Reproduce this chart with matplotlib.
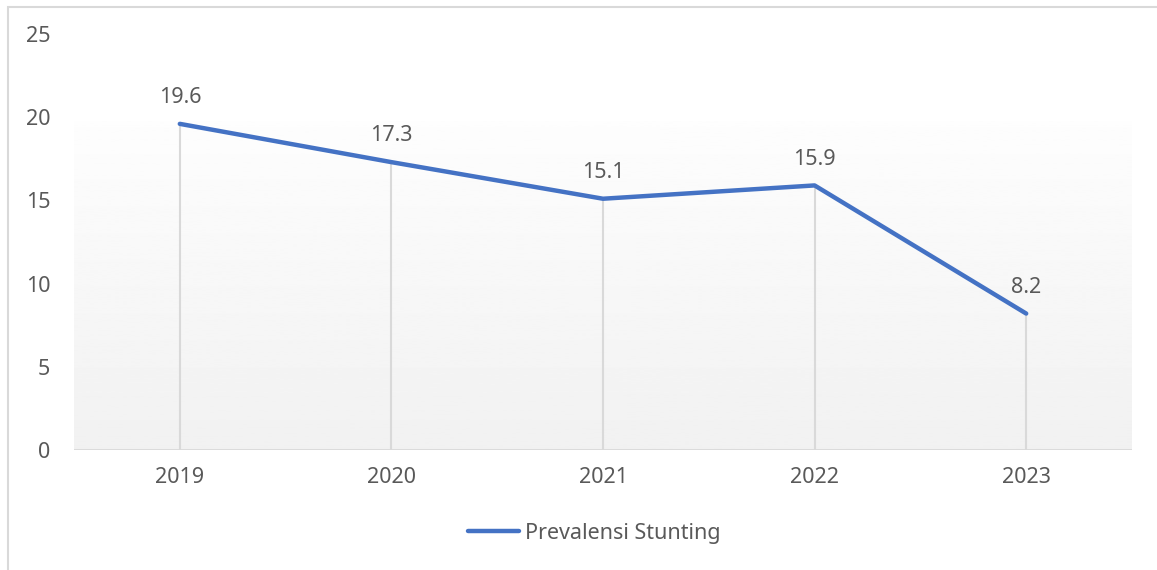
import numpy as np
import matplotlib
matplotlib.use("Agg")
import matplotlib.pyplot as plt
from matplotlib.patches import Rectangle

years = ["2019", "2020", "2021", "2022", "2023"]
prevalence = [19.6, 17.3, 15.1, 15.9, 8.2]
y_ticks = [0, 5, 10, 15, 20, 25]

LINE_COLOR = "#4472C4"
TEXT_COLOR = "#595959"
GRID_COLOR = "#D9D9D9"

plt.rcParams["font.family"] = ["Noto Sans", "DejaVu Sans"]

W, H = 1157, 570
fig = plt.figure(figsize=(W / 100, H / 100), dpi=100)
ax = fig.add_axes([74 / W, 1 - 450 / H, (1132 - 74) / W, (450 - 34) / H])

x = np.arange(len(years))
ax.set_xlim(-0.5, len(years) - 0.5)
ax.set_ylim(0, 25)

# soft gradient behind the lower part of the plot
grad = np.linspace(0.945, 0.993, 256).reshape(-1, 1)
ax.imshow(grad, cmap="gray", vmin=0, vmax=1, aspect="auto",
          extent=(-0.5, len(years) - 0.5, 0, 19.75), origin="lower", zorder=0)

# drop lines from each point
ax.vlines(x, 0, prevalence, color=GRID_COLOR, linewidth=1.5, zorder=1)
ax.axhline(0, color=GRID_COLOR, linewidth=2, zorder=2)

ax.plot(x, prevalence, color=LINE_COLOR, linewidth=3.2, solid_capstyle="round",
        zorder=3, label="Prevalensi Stunting")

for xi, v in zip(x, prevalence):
    ax.annotate(f"{v}", (xi, v), xytext=(0, 19), textcoords="offset points",
                ha="center", va="center", fontsize=15.5, color=TEXT_COLOR)

ax.set_xticks(x)
ax.set_xticklabels(years)
ax.set_yticks(y_ticks)
ax.tick_params(axis="both", length=0, labelsize=15.5, colors=TEXT_COLOR)
ax.tick_params(axis="y", pad=17)
ax.tick_params(axis="x", pad=12)
for s in ax.spines.values():
    s.set_visible(False)

leg = fig.legend(loc="center", bbox_to_anchor=(594 / W, 1 - 533 / H), frameon=False,
                 fontsize=15.5, handlelength=2.4, handletextpad=0.25,
                 labelcolor=TEXT_COLOR)

# outer chart border
fig.patches.append(Rectangle((8 / W, -0.1), 1.2, 1 - 7 / H + 0.1, transform=fig.transFigure,
                             fill=False, edgecolor=GRID_COLOR, linewidth=1.5))

fig.savefig("out.png", dpi=100)
